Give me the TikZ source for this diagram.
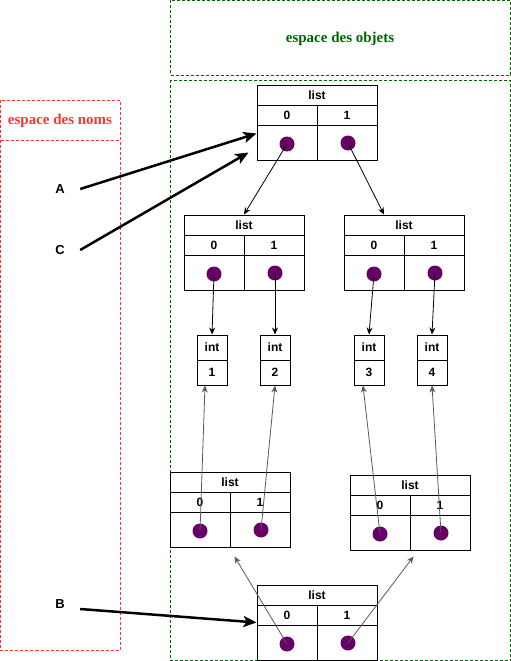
\documentclass[tikz,border=0pt]{standalone}
\usepackage{fontspec}
\setmainfont{Liberation Serif}
\setsansfont{Liberation Sans}
\usetikzlibrary{arrows.meta}
\definecolor{objgreen}{HTML}{006600}
\definecolor{nomred}{HTML}{FF3333}
\definecolor{ptrpurple}{HTML}{660066}
\tikzset{
	cell/.style={draw, line width=1pt, inner sep=0pt, font=\sffamily\bfseries\fontsize{12}{14}\selectfont},
	dot/.style={circle, fill=ptrpurple, minimum size=15pt, inner sep=0pt},
	ptr/.style={-{Stealth[length=7pt,width=6pt]}, line width=0.8pt},
	ptrgray/.style={ptr, draw=black!65},
	nameptr/.style={-{Stealth[length=13pt,width=11pt,inset=3pt]}, line width=2.5pt},
	varname/.style={font=\sffamily\bfseries\fontsize{13}{15}\selectfont, minimum width=40pt, inner sep=0pt},
	zonetitle/.style={font=\bfseries\fontsize{15}{18}\selectfont}
}
\def\listobj(#1)(#2,#3){%
	\node[cell, minimum width=120pt, minimum height=20pt] (#1) at ({#2+60},{#3+10}) {list};
	\node[cell, minimum width=60pt, minimum height=20pt] (#1-i0) at ({#2+30},{#3+30}) {0};
	\node[cell, minimum width=60pt, minimum height=20pt] (#1-i1) at ({#2+90},{#3+30}) {1};
	\node[cell, minimum width=60pt, minimum height=35pt] (#1-v0) at ({#2+30},{#3+57.5}) {};
	\node[cell, minimum width=60pt, minimum height=35pt] (#1-v1) at ({#2+90},{#3+57.5}) {};
	\node[dot] (#1-d0) at ({#2+30},{#3+59}) {};
	\node[dot] (#1-d1) at ({#2+91},{#3+58}) {};
}
\def\intobj(#1)(#2,#3)#4{%
	\node[cell, minimum width=30pt, minimum height=25pt] (#1) at ({#2+15},{#3+12.5}) {int};
	\node[cell, minimum width=30pt, minimum height=25pt] (#1-v) at ({#2+15},{#3+37.5}) {#4};
}

\begin{document}
\begin{tikzpicture}[x=1pt, y=-1pt]
		%%%%% START %%%%%
		\useasboundingbox (0,0) rectangle (511,661);
		
		% zones
		\draw[objgreen, line width=1pt, dash pattern=on 3pt off 2pt] (170, 0.5) rectangle (510.5, 75);
		\draw[objgreen, line width=1pt, dash pattern=on 3pt off 2pt] (170, 80) rectangle (510.5, 660.5);
		\node[zonetitle, text=objgreen] (objets) at (340, 39) {espace des objets};
		
		\draw[nomred, line width=0.8pt, dash pattern=on 3pt off 2pt] (0.5, 100) rectangle (120, 650);
		\draw[nomred, line width=0.8pt, dash pattern=on 3pt off 2pt] (0.5, 140) -- (120, 140);
		\node[zonetitle, text=nomred] (noms) at (60, 121) {espace des noms};
		
		% objets
		\listobj(top)(257, 85)
		\listobj(l1)(184, 215)
		\listobj(l2)(344, 215)
		\listobj(l3)(170, 472)
		\listobj(l4)(350, 475)
		\listobj(l5)(257, 585)
		
		\intobj(i1)(197, 335){1}
		\intobj(i2)(260, 335){2}
		\intobj(i3)(354, 335){3}
		\intobj(i4)(417, 335){4}
		
		% noms
		\node[varname] (A) at (60, 189) {A};
		\node[varname] (C) at (60, 250) {C};
		\node[varname] (B) at (60, 604) {B};
		
		\coordinate (l3-in) at ([xshift=5pt, yshift=-9pt]l3-v1.south west);
		\coordinate (l4-in) at ([xshift=4pt, yshift=-6pt]l4-v1.south west);
		
		% references
		\draw[ptr] (top-d0.center) -- (l1.north);
		\draw[ptr] (top-d1.center) -- ([xshift=-20pt]l2.north);
		
		\draw[ptr] (l1-d0.center) -- (i1.north);
		\draw[ptr] (l1-d1.center) -- (i2.north);
		\draw[ptr] (l2-d0.center) -- (i3.north);
		\draw[ptr] (l2-d1.center) -- (i4.north);
		
		\draw[ptrgray] (l3-d0.center) -- ([xshift=-7pt]i1-v.south);
		\draw[ptrgray] (l3-d1.center) -- (i2-v.south);
		\draw[ptrgray] (l4-d0.center) -- ([xshift=-6pt]i3-v.south);
		\draw[ptrgray] (l4-d1.center) -- (i4-v.south);
		
		\draw[ptrgray] (l5-d0.center) -- (l3-in);
		\draw[ptrgray] (l5-d1.center) -- (l4-in);
		
		\draw[nameptr] (A.east) -- ([yshift=9pt]top-v0.west);
		\draw[nameptr] (C.east) -- ([xshift=-8pt, yshift=-10pt]top-v0.west);
		\draw[nameptr] ([yshift=-5pt]B.east) -- ([yshift=2pt]l5-v0.north west);
		
		%%%%% END %%%%%
	\end{tikzpicture}
\end{document}
